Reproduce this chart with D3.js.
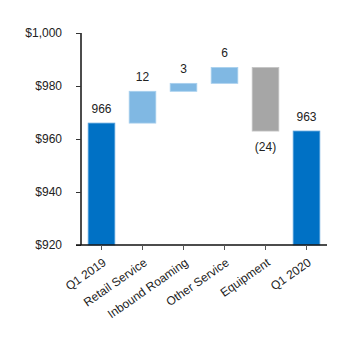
<!DOCTYPE html>
<html>
<head>
<meta charset="utf-8">
<script src="https://cdn.jsdelivr.net/npm/d3@7"></script>
<style>
  body { margin: 0; background: #fff; }
  svg { font-family: "Liberation Sans", Arial, Helvetica, sans-serif; display: block; }
</style>
</head>
<body>
<div id="chart"></div>
<script>
const categories = ["Q1 2019", "Retail Service", "Inbound Roaming", "Other Service", "Equipment", "Q1 2020"];
const startValue = 966;
const deltas = [12, 3, 6, -24];
const endValue = 963;
const labels = ["966", "12", "3", "6", "(24)", "963"];
const yTicks = [920, 940, 960, 980, 1000];

const width = 360, height = 353;
const margin = { top: 33, right: 33, bottom: 108, left: 81 };
const innerW = width - margin.left - margin.right;
const innerH = height - margin.top - margin.bottom;

// build waterfall steps
const steps = [];
steps.push({ cat: categories[0], y0: 920, y1: startValue, type: "total" });
let run = startValue;
deltas.forEach((d, i) => {
  steps.push({ cat: categories[i + 1], y0: run, y1: run + d, type: d >= 0 ? "up" : "down" });
  run += d;
});
steps.push({ cat: categories[5], y0: 920, y1: endValue, type: "total" });
steps.forEach((s, i) => s.label = labels[i]);

const fill = { total: "#0071c5", up: "#80b8e3", down: "#a6a6a6" };
const edge = { total: "#5aa3dc", up: "#a9d0ee", down: "#c4c4c4" };

const svg = d3.select("#chart").append("svg")
  .attr("width", width).attr("height", height);
const g = svg.append("g").attr("transform", `translate(${margin.left},${margin.top})`);

const x = d3.scaleBand().domain(categories).range([0, innerW]).paddingInner(0.35).paddingOuter(0.175);
const y = d3.scaleLinear().domain([920, 1000]).range([innerH, 0]);

// bars
g.selectAll("rect.bar")
  .data(steps)
  .join("rect")
  .attr("class", "bar")
  .attr("x", d => x(d.cat))
  .attr("width", x.bandwidth())
  .attr("y", d => y(Math.max(d.y0, d.y1)))
  .attr("height", d => Math.abs(y(d.y0) - y(d.y1)))
  .attr("fill", d => fill[d.type])
  .attr("stroke", d => edge[d.type])
  .attr("stroke-width", 0.8);

// value labels
g.selectAll("text.val")
  .data(steps)
  .join("text")
  .attr("class", "val")
  .attr("x", d => x(d.cat) + x.bandwidth() / 2)
  .attr("y", d => d.type === "down" ? y(Math.min(d.y0, d.y1)) + 20 : y(Math.max(d.y0, d.y1)) - 10)
  .attr("text-anchor", "middle")
  .attr("font-size", "12px")
  .attr("fill", "#222")
  .text(d => d.label);

// y axis
const yAxis = g.append("g")
  .call(d3.axisLeft(y).tickValues(yTicks).tickFormat(d3.format("$,")).tickSize(5).tickPadding(14));
yAxis.select(".domain").attr("d", `M0,0V${innerH}`).attr("stroke", "#111").attr("stroke-width", 1.5);
yAxis.selectAll(".tick line").attr("stroke", "#333");
yAxis.selectAll(".tick text").attr("font-size", "12px").attr("fill", "#222")
  .attr("font-family", "Liberation Sans, Arial, sans-serif");

// x axis
const xAxis = g.append("g")
  .attr("transform", `translate(0,${innerH})`)
  .call(d3.axisBottom(x).tickSize(5).tickPadding(4));
xAxis.select(".domain").attr("d", `M-5,0H${innerW}`).attr("stroke", "#111").attr("stroke-width", 1.5);
xAxis.selectAll(".tick line").attr("stroke", "#555");
xAxis.selectAll(".tick text")
  .attr("font-size", "12px").attr("fill", "#222")
  .attr("font-family", "Liberation Sans, Arial, sans-serif")
  .attr("text-anchor", "end")
  .attr("dy", "0.35em")
  .attr("transform", "translate(3,16) rotate(-35)")
  .attr("y", 0);
</script>
</body>
</html>
